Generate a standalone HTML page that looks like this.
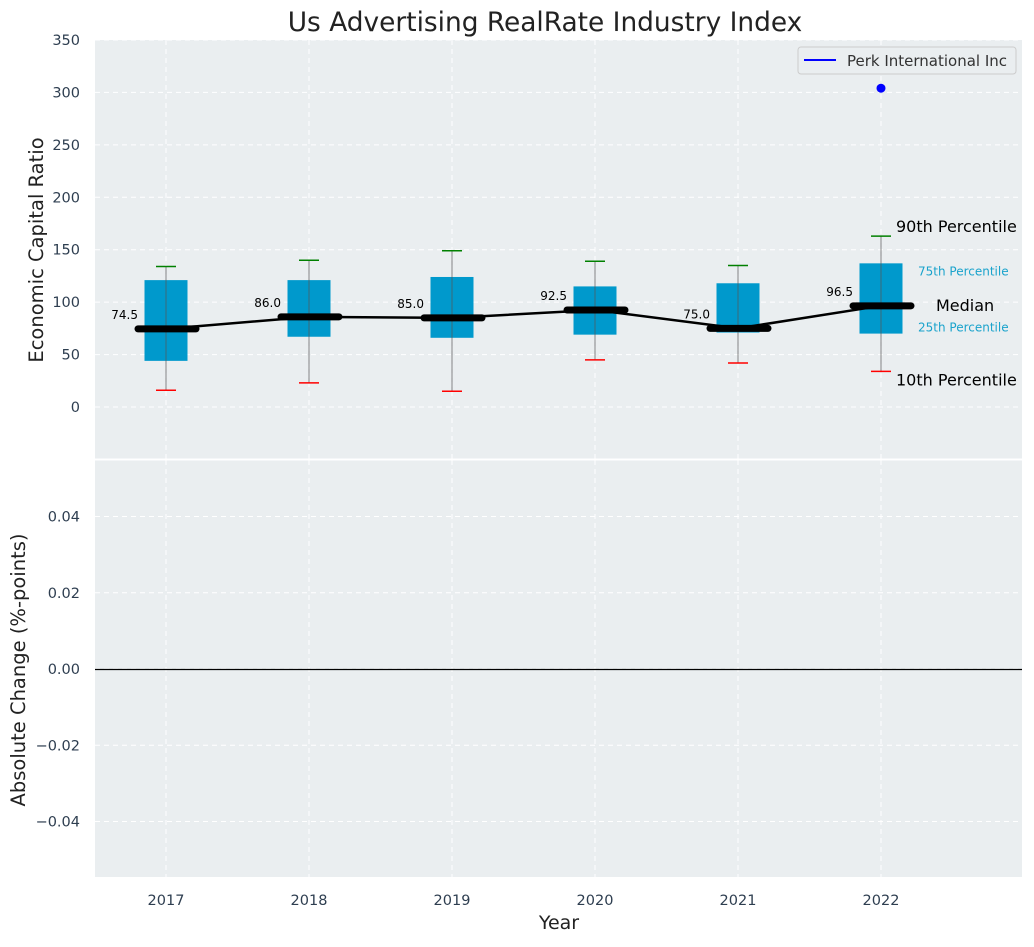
<!DOCTYPE html>
<html><head><meta charset="utf-8"><style>
body{margin:0;background:#fff;font-family:"Liberation Sans","DejaVu Sans",sans-serif;}
svg text{font-family:"DejaVu Sans","Liberation Sans",sans-serif;}
</style></head><body>
<svg id="chart" width="1034" height="942" xmlns="http://www.w3.org/2000/svg">
<rect width="1034" height="942" fill="#fff"/>
<text x="545" y="31" font-size="26.4" text-anchor="middle" fill="#222">Us Advertising RealRate Industry Index</text>
<rect x="95" y="40" width="927" height="419" fill="#eaeef0"/>
<rect x="95" y="460" width="927" height="417" fill="#eaeef0"/>
<g id="grid"></g><g id="marks"></g><g id="axes"></g>
<text transform="translate(43,250) rotate(-90)" font-size="19.5" text-anchor="middle" fill="#222">Economic Capital Ratio</text>
<text transform="translate(25,670) rotate(-90)" font-size="19.5" text-anchor="middle" fill="#222">Absolute Change (%-points)</text>
<text x="559" y="929" font-size="19" text-anchor="middle" fill="#222">Year</text>
<g>
<rect x="798" y="47" width="218" height="27" rx="3" fill="#eaeef0" stroke="#ccc"/>
<line x1="804" y1="60" x2="836" y2="60" stroke="blue" stroke-width="2"/>
<text x="847" y="66" font-size="15" fill="#333">Perk International Inc</text>
</g>
</svg>
<script>
const years=[2017,2018,2019,2020,2021,2022];
const medians=[74.5,86.0,85.0,92.5,75.0,96.5];
const q25=[44,67,66,69,71,70];
const q75=[121,121,124,115,118,137];
const p10=[16,23,15,45,42,34];
const p90=[134,140,149,139,135,163];
const companyYear=[2022];
const companyValue=[304];
const topTicks=[0,50,100,150,200,250,300,350];
const botTicks=[-0.04,-0.02,0.00,0.02,0.04];
const NS='http://www.w3.org/2000/svg';
const X=y=>166+(y-2017)*143;
const Y=v=>407-v*(367/350);
const YB=v=>669-v*(152.5/0.04);
function mk(p,t,a){const e=document.createElementNS(NS,t);for(const k in a)e.setAttribute(k,a[k]);p.appendChild(e);return e;}
const grid=document.getElementById('grid'),marks=document.getElementById('marks'),axes=document.getElementById('axes');
topTicks.forEach(t=>{
 const l=mk(grid,'line',{x1:95,x2:1022,y1:Y(t),y2:Y(t),stroke:'#fff','stroke-dasharray':'5,4','stroke-width':1});
 
 
 const tx=mk(axes,'text',{x:80,y:Y(t)+5,'font-size':14.5,'text-anchor':'end',fill:'#2e3e50'});tx.textContent=t;
 
 
});
botTicks.forEach(t=>{
 const l=mk(grid,'line',{x1:95,x2:1022,y1:YB(t),y2:YB(t),stroke:'#fff','stroke-dasharray':'5,4','stroke-width':1});
 
 
 const tx=mk(axes,'text',{x:80,y:YB(t)+5,'font-size':14.5,'text-anchor':'end',fill:'#2e3e50'});
 tx.textContent=(t<0?'\u2212':'')+Math.abs(t).toFixed(2);
 
 
});
years.forEach(y=>{
 [[40,459],[460,877]].forEach(r=>{const l=mk(grid,'line',{x1:X(y),x2:X(y),y1:r[0],y2:r[1],stroke:'#fff','stroke-dasharray':'5,4'});
 
 });
 const tx=mk(axes,'text',{x:X(y),y:905,'font-size':14.5,'text-anchor':'middle',fill:'#2e3e50'});tx.textContent=y;
 
 
});
const zl=mk(axes,'line',{x1:95,x2:1022,y1:YB(0)+0.5,y2:YB(0)+0.5,stroke:'#000','stroke-width':1.3});


mk(axes,'line',{x1:95,x2:1022,y1:459.5,y2:459.5,stroke:'#fff','stroke-width':2});
years.forEach((y,i)=>{
 const x=X(y);
 const b=mk(marks,'rect',{x:x-21.5,y:Y(q75[i]),width:43,height:Y(q25[i])-Y(q75[i]),fill:'#0099cc'});
 
 
 const w=mk(marks,'line',{x1:x,x2:x,y1:Y(p90[i]),y2:Y(p10[i]),stroke:'#555','stroke-width':1,opacity:0.7});
 
 
 const c1=mk(marks,'line',{x1:x-10,x2:x+10,y1:Y(p90[i]),y2:Y(p90[i]),stroke:'green','stroke-width':1.5});
 
 
 const c2=mk(marks,'line',{x1:x-10,x2:x+10,y1:Y(p10[i]),y2:Y(p10[i]),stroke:'red','stroke-width':1.5});
 
 
});
const pl=mk(marks,'polyline',{points:years.map((y,i)=>X(y)+','+Y(medians[i])).join(' '),fill:'none',stroke:'#000','stroke-width':2.5});


years.forEach((y,i)=>{
 const x=X(y);
 const m=mk(marks,'line',{x1:x-28,x2:x+30,y1:Y(medians[i]),y2:Y(medians[i]),stroke:'#000','stroke-width':7,'stroke-linecap':'round'});
 
 
 const t=mk(marks,'text',{x:x-28,y:Y(medians[i])-10,'font-size':12,'text-anchor':'end',fill:'#000'});t.textContent=medians[i].toFixed(1);
 
 
});
companyYear.forEach((y,i)=>{
 const c=mk(marks,'circle',{cx:X(y),cy:Y(companyValue[i]),r:4.5,fill:'blue'});
 
 
});
const li=years.length-1,lx=X(years[li]);
[[p90[li],'90th Percentile',16,'#000',lx+15,-4],[q75[li],'75th Percentile',12,'#1aa3cc',lx+37,12],[medians[li],'Median',16,'#000',lx+55,5],[q25[li],'25th Percentile',12,'#1aa3cc',lx+37,-2],[p10[li],'10th Percentile',16,'#000',lx+15,14]].forEach(a=>{
 const t=mk(marks,'text',{x:a[4],y:Y(a[0])+a[5],'font-size':a[2],fill:a[3]});t.textContent=a[1];
 
 
});
</script>
</body></html>
